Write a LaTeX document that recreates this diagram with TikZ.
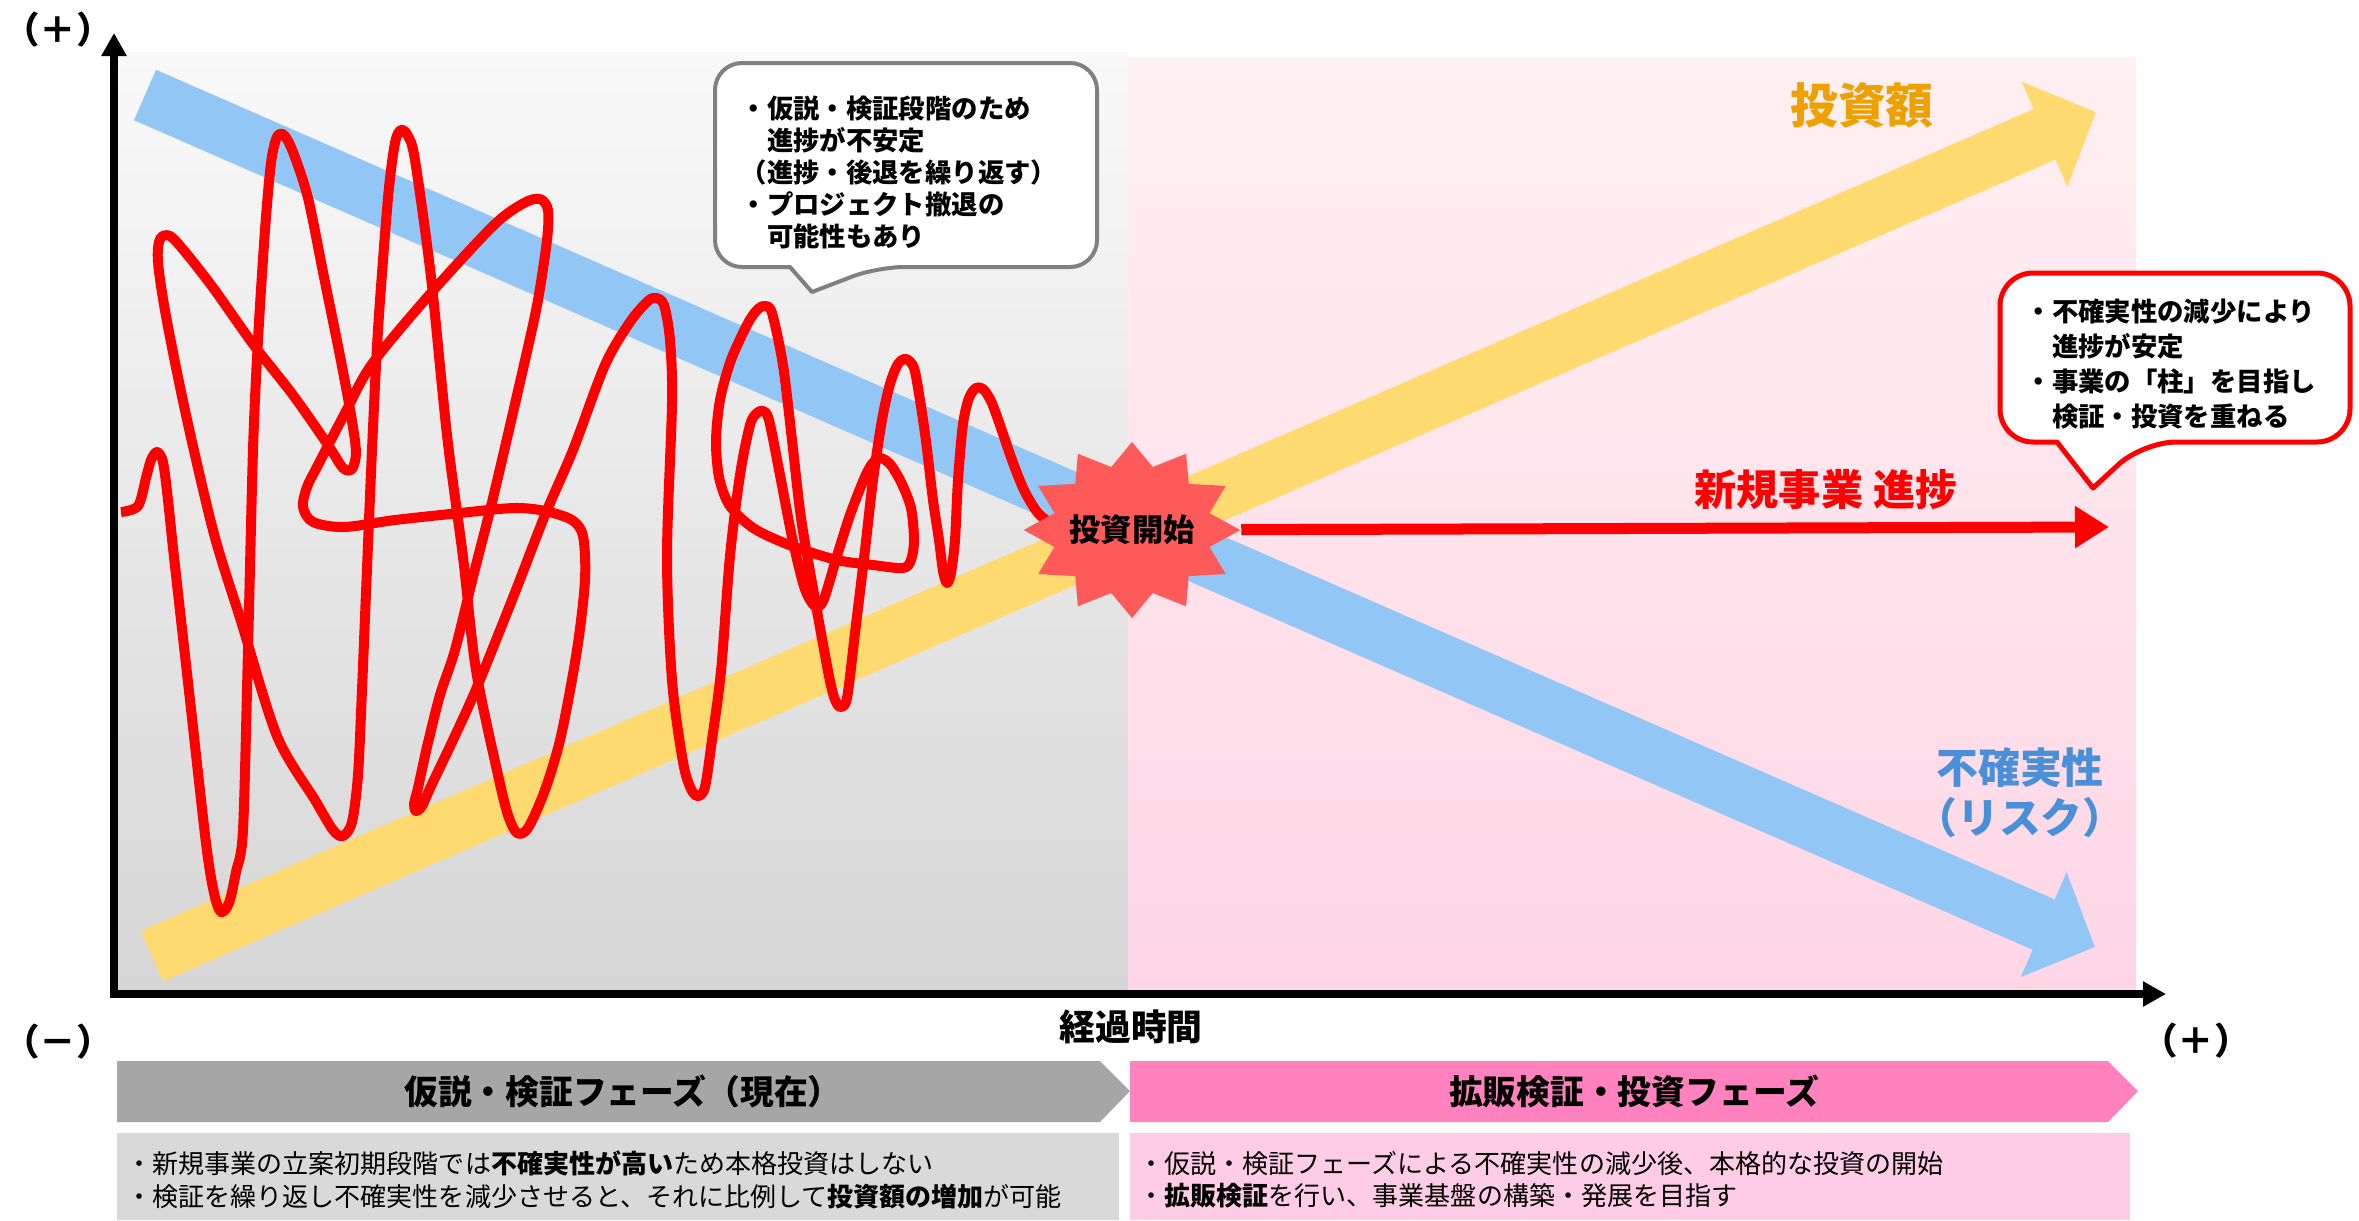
\documentclass[tikz,border=0pt]{standalone}
\usepackage{fontspec}
\setmainfont{Noto Sans CJK JP}
\usetikzlibrary{arrows.meta}
\usetikzlibrary{shapes.geometric}
\definecolor{riskblue}{RGB}{146,198,245}
\definecolor{costyellow}{RGB}{255,218,112}
\definecolor{burstred}{RGB}{255,90,90}
\definecolor{costorange}{RGB}{237,160,0}
\definecolor{risktext}{RGB}{74,144,217}
\definecolor{phasegray}{RGB}{166,166,166}
\definecolor{phasepink}{RGB}{255,130,190}
\definecolor{notegray}{RGB}{217,217,217}
\definecolor{notepink}{RGB}{255,204,229}
\definecolor{memogray}{RGB}{128,128,128}
\definecolor{pasttop}{RGB}{249,249,249}
\definecolor{pastbottom}{RGB}{214,214,214}
\definecolor{futuretop}{RGB}{255,240,242}
\definecolor{futurebottom}{RGB}{255,214,230}

\begin{document}
\begin{tikzpicture}[x=0.01cm,y=-0.01cm,line join=round,
  axis/.style={line width=0.08cm,line join=miter,{Triangle[length=0.23cm,width=0.24cm]}-{Triangle[length=0.23cm,width=0.24cm]}},
  band/.style={line width=0.55cm,-{Triangle[length=0.56cm,width=1.11cm]}},
  squiggle/.style={red,line width=0.1cm},
  progress/.style={red,line width=0.11cm,-{Triangle[length=0.34cm,width=0.40cm]}},
  burst/.style={star,star points=12,star point ratio=1.35,minimum size=1.76cm,inner sep=0pt,fill=burstred,xscale=1.23,transform shape},
  callgray/.style={draw=memogray,line width=0.04cm,fill=white},
  callred/.style={draw=red,line width=0.05cm,fill=white},
  memo/.style={anchor=west,align=left,inner sep=0pt,font=\fontsize{7.5}{9.1}\selectfont\bfseries},
  phasetext/.style={inner sep=0pt,font=\fontsize{9.6}{11}\selectfont\bfseries},
  notetext/.style={anchor=west,align=left,inner sep=0pt,font=\fontsize{7.4}{9.2}\selectfont},
  sign/.style={inner sep=0pt,font=\fontsize{10.4}{12}\selectfont\bfseries}]

\useasboundingbox (0,0) rectangle (2359,1220);
\fill[white] (0,0) rectangle (2359,1220);
\shade[top color=pasttop,bottom color=pastbottom] (118,52) rectangle (1128,992);
\shade[top color=futuretop,bottom color=futurebottom] (1128,57) rectangle (2136,992);

\coordinate (risk0) at (145,95);
\coordinate (risk1) at (2095,947);
\coordinate (cost0) at (152,956);
\coordinate (cost1) at (2096,112);
\draw[band,riskblue] (risk0) -- (risk1);
\draw[band,costyellow] (cost0) -- (cost1);

\draw[squiggle] plot[smooth,tension=0.5] coordinates {(121,512) (138,506) (146,478) (151,460) (157,452) (163,462) (168,500) (174,557) (190,700) (206,843) (214,893) (221,912) (229,903) (236,872) (243,830) (248,650) (253,450) (258,340) (265,230) (271,163) (277,137) (284,135) (293,152) (308,198) (324,277) (340,356) (351,415) (356,452) (352,469) (343,468) (328,445) (293,395) (253,344) (214,289) (186,253) (170,236) (160,239) (158,262) (166,316) (186,415) (214,534) (241,621) (277,736) (315,800) (333,830) (343,836) (352,822) (358,775) (362,690) (366,593) (372,450) (378,330) (388,198) (395,143) (401,130) (408,136) (415,160) (431,277) (447,435) (463,557) (476,670) (498,775) (508,815) (517,833) (528,828) (545,790) (561,736) (577,650) (585,580) (583,536) (572,520) (545,511) (514,508) (460,513) (395,520) (344,527) (313,522) (303,507) (307,487) (318,465) (344,415) (372,364) (431,293) (494,225) (524,203) (540,199) (548,210) (547,240) (538,300) (526,356) (494,494) (474,573) (455,650) (440,695) (427,747) (418,788) (414,804) (416,811) (422,806) (432,784) (453,740) (477,687) (514,595) (545,515) (573,450) (605,365) (630,322) (648,301) (656,298) (664,305) (670,340) (672,403) (667,556) (672,680) (683,762) (691,789) (698,796) (705,787) (712,740) (721,671) (730,556) (740,475) (750,425) (757,413) (763,411) (769,420) (780,475) (792,537) (803,583) (810,600) (817,607) (824,599) (837,556) (850,515) (864,479) (872,464) (880,458) (890,464) (901,482) (911,508) (914,540) (911,560) (903,568) (873,565) (837,560) (792,546) (760,532) (743,520) (728,503) (719,477) (716,441) (720,400) (731,360) (748,323) (758,309) (765,306) (772,313) (783,365) (792,440) (801,518) (814,594) (828,671) (834,697) (840,707) (847,698) (855,633) (865,550) (873,480) (882,420) (890,384) (898,364) (906,359) (914,368) (920,400) (926,441) (933,500) (939,540) (943,571) (947,583) (951,573) (955,540) (958,480) (963,424) (969,398) (976,388) (983,389) (991,401) (1000,425) (1012,460) (1024,490) (1038,513) (1053,524) (1070,528)};

\node[burst] (burst) at (1132,530) {};
\coordinate (goal) at (2109,527);
\draw[progress] (burst) -- (goal);
\node[font=\fontsize{8.9}{10}\selectfont\bfseries] (bursttext) at (burst) {投資開始};

\coordinate (origin) at (114,994);
\coordinate (ytop) at (114,33);
\coordinate (xend) at (2166,994);
\draw[axis] (ytop) -- (origin) -- (xend);

\node[font=\fontsize{13.6}{15}\selectfont\bfseries,text=costorange] (costlabel) at (1862,105) {投資額};
\node[font=\fontsize{12}{14}\selectfont\bfseries,text=red] (progresslabel) at (1826,489) {新規事業 進捗};
\node[font=\fontsize{11.9}{14.2}\selectfont\bfseries,text=risktext,align=center] (risklabel) at (2020,793) {不確実性\\（リスク）};
\node[font=\fontsize{10.2}{12}\selectfont\bfseries] (timelabel) at (1131,1027) {経過時間};
\node[sign] (plustop) at (58,30) {（＋）};
\node[sign] (minus) at (58,1042) {（－）};
\node[sign] (plusright) at (2196,1041) {（＋）};

\draw[callgray] (715,165) [rounded corners=0.27cm] |- (1097,63) |- (877,267) [sharp corners] -- (812,292) -- (790,267) [rounded corners=0.27cm] -| (715,165) -- cycle;
\node[memo] (hypomemo) at (740,172) {・仮説・検証段階のため\\　進捗が不安定\\（進捗・後退を繰り返す）\\・プロジェクト撤退の\\　可能性もあり};
\draw[callred] (2000,357) [rounded corners=0.33cm] |- (2350,273) |- (2143,442) [sharp corners] -- (2093,488) -- (2057,442) [rounded corners=0.33cm] -| (2000,357) -- cycle;
\node[memo,font=\fontsize{7.5}{10}\selectfont\bfseries] (scalememo) at (2025,364) {・不確実性の減少により\\　進捗が安定\\・事業の「柱」を目指し\\　検証・投資を重ねる};

\fill[phasegray] (117,1061) -- (1100,1061) -- (1130,1091) -- (1100,1122) -- (117,1122) -- cycle;
\fill[phasepink] (1130,1061) -- (2108,1061) -- (2138,1091) -- (2108,1122) -- (1130,1122) -- cycle;
\node[phasetext] (hypophase) at (623,1091) {仮説・検証フェーズ（現在）};
\node[phasetext] (scalephase) at (1634,1091) {拡販検証・投資フェーズ};
\fill[notegray] (117,1133) rectangle (1119,1220);
\fill[notepink] (1130,1133) rectangle (2130,1220);
\node[notetext] (hyponote) at (126,1180) {・新規事業の立案初期段階では\textbf{不確実性が高い}ため本格投資はしない\\・検証を繰り返し不確実性を減少させると、それに比例して\textbf{投資額の増加}が可能};
\node[notetext] (scalenote) at (1138,1180) {・仮説・検証フェーズによる不確実性の減少後、本格的な投資の開始\\・\textbf{拡販検証}を行い、事業基盤の構築・発展を目指す};
\end{tikzpicture}
\end{document}
